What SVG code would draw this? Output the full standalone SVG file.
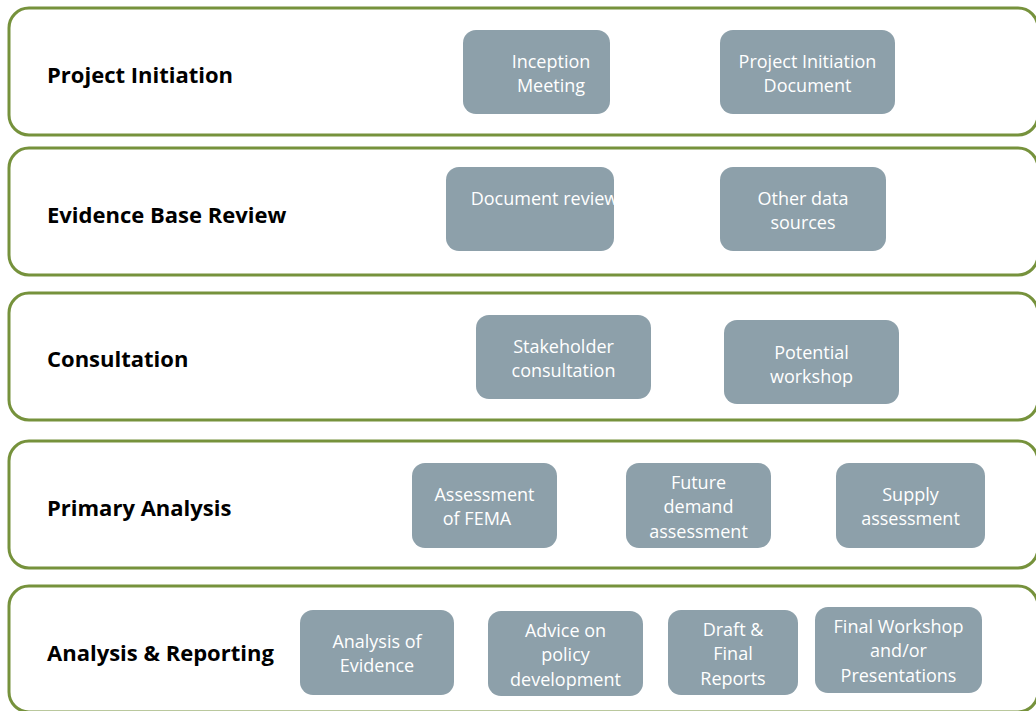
<svg xmlns="http://www.w3.org/2000/svg" width="1036" height="711" viewBox="0 0 1036 711">
  <style>
    .lane { fill: #ffffff; stroke: #76923c; stroke-width: 3; }
    .lane-label { font-family: "Open Sans", "Liberation Sans", sans-serif; font-size: 22px; font-weight: bold; fill: #000000; }
    .task { fill: #8da0aa; }
    .task-text { font-family: "Open Sans", "Liberation Sans", sans-serif; font-size: 18px; fill: #ffffff; text-anchor: middle; }
  </style>
  <rect width="1036" height="711" fill="#ffffff"/>

  <g id="lane-project-initiation">
    <rect class="lane" x="9" y="8" width="1029" height="127" rx="20"/>
    <text class="lane-label" x="47" y="83">Project Initiation</text>
  </g>
  <g id="lane-evidence-base-review">
    <rect class="lane" x="9" y="148" width="1029" height="127" rx="20"/>
    <text class="lane-label" x="47" y="223">Evidence Base Review</text>
  </g>
  <g id="lane-consultation">
    <rect class="lane" x="9" y="293" width="1029" height="127" rx="20"/>
    <text class="lane-label" x="47" y="367">Consultation</text>
  </g>
  <g id="lane-primary-analysis">
    <rect class="lane" x="9" y="441" width="1029" height="127" rx="20"/>
    <text class="lane-label" x="47" y="516">Primary Analysis</text>
  </g>
  <g id="lane-analysis-reporting">
    <rect class="lane" x="9" y="586" width="1029" height="126" rx="20"/>
    <text class="lane-label" x="47" y="661">Analysis &amp; Reporting</text>
  </g>

  <g id="inception-meeting">
    <rect class="task" x="463" y="30" width="147" height="84" rx="13"/>
    <text class="task-text" x="551" y="68">Inception</text>
    <text class="task-text" x="551" y="92">Meeting</text>
  </g>
  <g id="project-initiation-document">
    <rect class="task" x="720" y="30" width="175" height="84" rx="13"/>
    <text class="task-text" x="807.5" y="68">Project Initiation</text>
    <text class="task-text" x="807.5" y="92">Document</text>
  </g>
  <g id="document-review">
    <rect class="task" x="446" y="167" width="168" height="84" rx="13"/>
    <text class="task-text" x="544.5" y="205">Document review</text>
  </g>
  <g id="other-data-sources">
    <rect class="task" x="720" y="167" width="166" height="84" rx="13"/>
    <text class="task-text" x="803" y="205">Other data</text>
    <text class="task-text" x="803" y="229">sources</text>
  </g>
  <g id="stakeholder-consultation">
    <rect class="task" x="476" y="315" width="175" height="84" rx="13"/>
    <text class="task-text" x="563.5" y="353">Stakeholder</text>
    <text class="task-text" x="563.5" y="377">consultation</text>
  </g>
  <g id="potential-workshop">
    <rect class="task" x="724" y="320" width="175" height="84" rx="13"/>
    <text class="task-text" x="811.5" y="359">Potential</text>
    <text class="task-text" x="811.5" y="383">workshop</text>
  </g>
  <g id="assessment-of-fema">
    <rect class="task" x="412" y="463" width="145" height="85" rx="13"/>
    <text class="task-text" x="484.5" y="501">Assessment</text>
    <text class="task-text" x="477" y="525">of FEMA</text>
  </g>
  <g id="future-demand-assessment">
    <rect class="task" x="626" y="463" width="145" height="85" rx="13"/>
    <text class="task-text" x="698.5" y="489">Future</text>
    <text class="task-text" x="698.5" y="513">demand</text>
    <text class="task-text" x="698.5" y="538">assessment</text>
  </g>
  <g id="supply-assessment">
    <rect class="task" x="836" y="463" width="149" height="85" rx="13"/>
    <text class="task-text" x="910.5" y="501">Supply</text>
    <text class="task-text" x="910.5" y="525">assessment</text>
  </g>
  <g id="analysis-of-evidence">
    <rect class="task" x="300" y="610" width="154" height="85" rx="13"/>
    <text class="task-text" x="377" y="648">Analysis of</text>
    <text class="task-text" x="377" y="672">Evidence</text>
  </g>
  <g id="advice-on-policy-development">
    <rect class="task" x="488" y="611" width="155" height="85" rx="13"/>
    <text class="task-text" x="565.5" y="637">Advice on</text>
    <text class="task-text" x="565.5" y="661">policy</text>
    <text class="task-text" x="565.5" y="686">development</text>
  </g>
  <g id="draft-final-reports">
    <rect class="task" x="668" y="610" width="130" height="85" rx="13"/>
    <text class="task-text" x="733" y="636">Draft &amp;</text>
    <text class="task-text" x="733" y="660">Final</text>
    <text class="task-text" x="733" y="685">Reports</text>
  </g>
  <g id="final-workshop-presentations">
    <rect class="task" x="815" y="607" width="167" height="86" rx="13"/>
    <text class="task-text" x="898.5" y="633">Final Workshop</text>
    <text class="task-text" x="898.5" y="657">and/or</text>
    <text class="task-text" x="898.5" y="682">Presentations</text>
  </g>

  <g id="connectors"/>
</svg>
